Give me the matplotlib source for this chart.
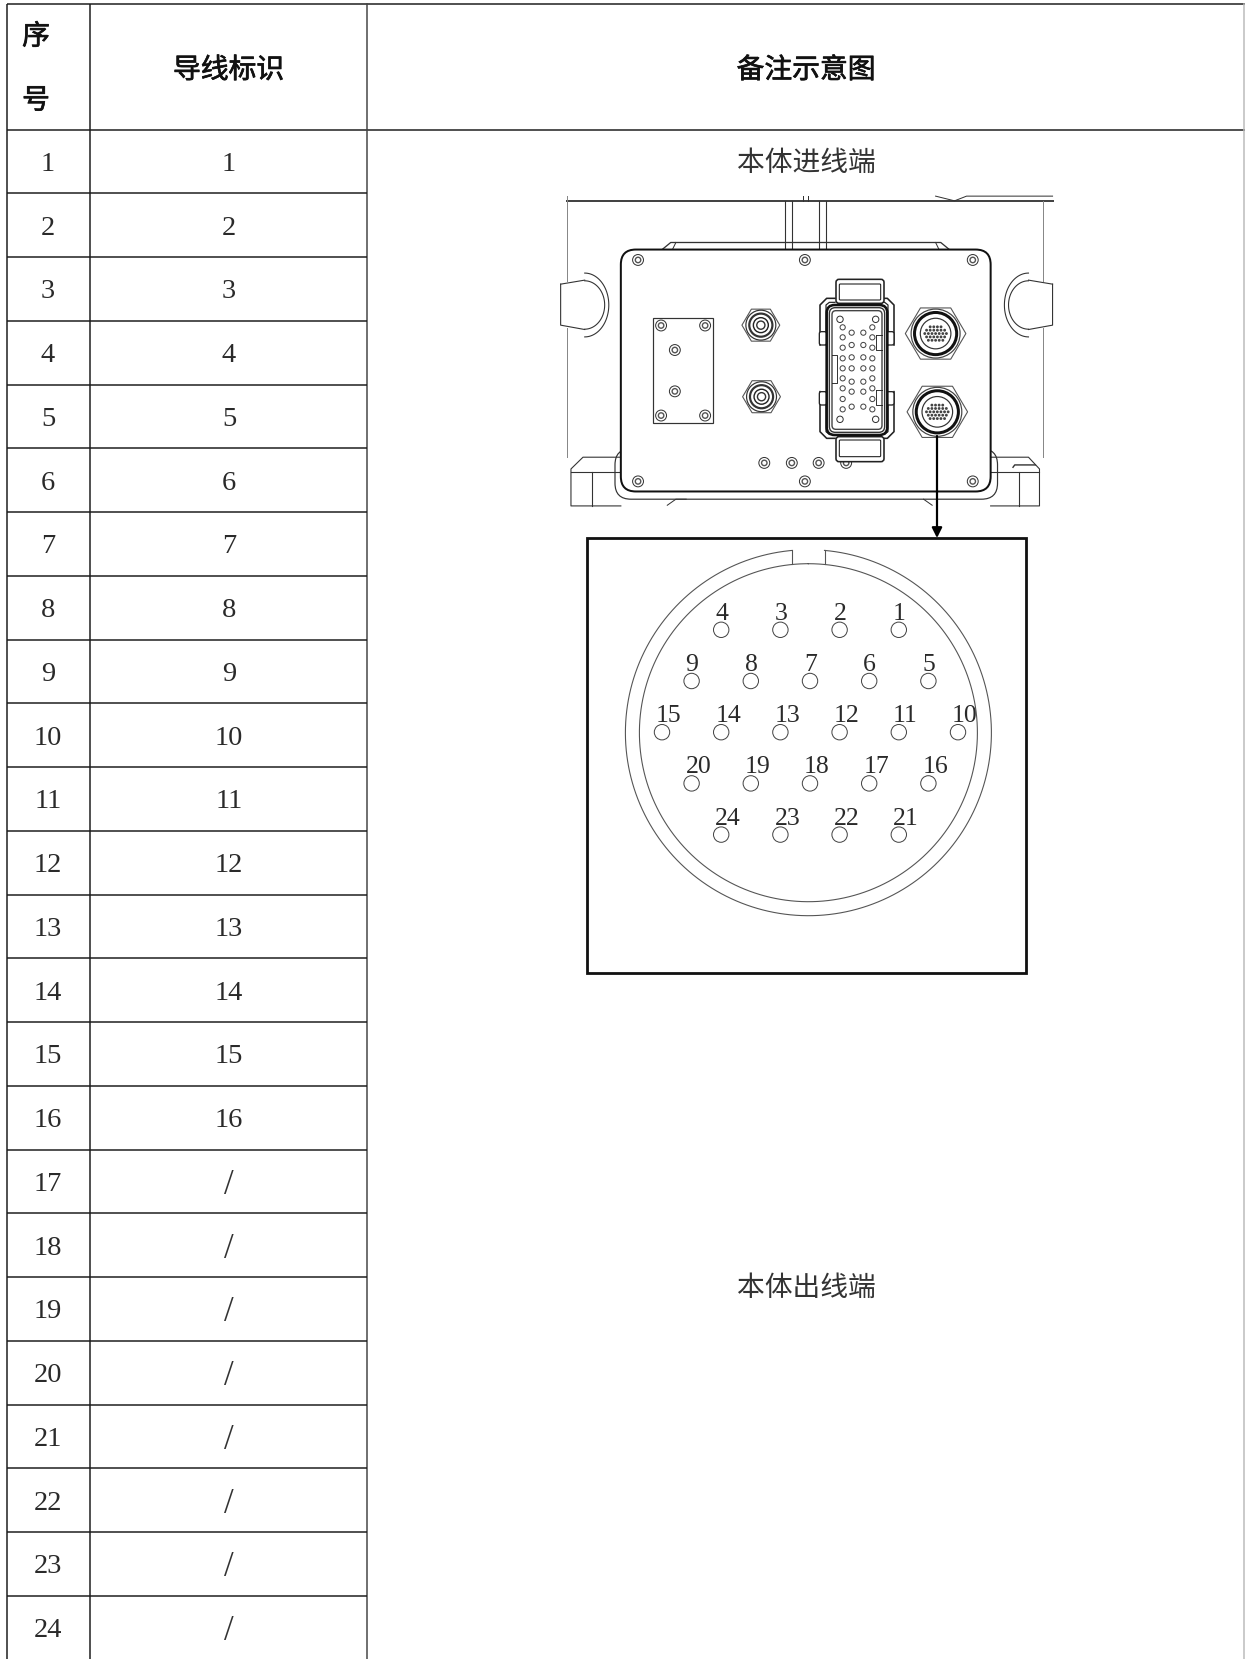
import matplotlib
matplotlib.use("Agg")
import matplotlib.pyplot as plt
import matplotlib.patheffects as pe
from matplotlib.patches import Circle, FancyBboxPatch, Rectangle, Polygon
import numpy as np

# table contents
row_numbers = [str(i) for i in range(1, 25)]
wire_ids = [str(i) for i in range(1, 17)] + ["/"] * 8
headers = ["导线标识", "备注示意图"]
captions = ["本体进线端", "本体出线端"]

# pin layout of the round connector, top row first
pin_rows = [
    ["4", "3", "2", "1"],
    ["9", "8", "7", "6", "5"],
    ["15", "14", "13", "12", "11", "10"],
    ["20", "19", "18", "17", "16"],
    ["24", "23", "22", "21"],
]

# panel drawing parts
panel_screws = [(285, 238), (770, 238), (1258, 238), (285, 897), (770, 897), (1258, 897),
                (652, 842), (732, 842), (810, 842), (890, 842),
                (352, 433), (480, 433), (392, 506), (392, 629), (352, 701), (480, 701)]
glands = [(642, 432), (644, 645)]
round_plugs = [(1150, 457), (1155, 690)]
# block connector contacts, crop 4 coordinates
outer_pins_x = [98, 187]
outer_pins_y = [172, 202, 233, 265, 295, 325, 355, 387, 418]
inner_pins_x = [125, 160]
inner_pins_y = [188, 225, 262, 295, 335, 365, 410]
block_screws = [(90, 148), (197, 148), (90, 448), (197, 448)]
block_clips = [(28, 185), (230, 185), (28, 365), (230, 365)]

W, H = 1245, 1659
fig = plt.figure(figsize=(W / 100, H / 100), dpi=100)
ax = fig.add_axes([0, 0, 1, 1])
ax.set_xlim(0, W)
ax.set_ylim(H, 0)
ax.axis("off")

cjk = ["Noto Sans CJK SC", "DejaVu Sans"]
serif = "Liberation Serif"
dark = "#1a1a1a"


def px(n):
    return n * 0.72


# ---- table ----
x_left, x_col1, x_col2, x_right = 7, 90, 367, 1244
y_top, y_head = 4, 129.5
row_h = 63.75
line = dict(color=dark, lw=px(1.5), solid_capstyle="butt")

ax.plot([x_left, W], [y_top, y_top], **line)
ax.plot([x_left, W], [y_head, y_head], **line)
for x in [x_left, x_col1]:
    ax.plot([x, x], [y_top, H], **line)
ax.plot([x_col2, x_col2], [y_top, H], color="#444444", lw=px(1.5))
ax.plot([x_right, x_right], [y_top, H], color="#bbbbbb", lw=px(1.5))
for i in range(1, 24):
    y = y_head + i * row_h
    ax.plot([x_left, x_col2], [y, y], **line)

for i, (a, b) in enumerate(zip(row_numbers, wire_ids)):
    y = y_head + (i + 0.5) * row_h + 3
    ax.text(48, y, a, family=serif, fontsize=20.5, ha="center", va="center", color="#2a2a2a")
    if b == "/":
        ax.text(229, y + 1, b, family=serif, fontsize=25, ha="center", va="center", color="#333333")
    else:
        ax.text(229, y, b, family=serif, fontsize=20.5, ha="center", va="center", color="#2a2a2a")

semi = [pe.withStroke(linewidth=0.5, foreground="#111111")]
for s, xt, yt in [("序", 36, 36.5), ("号", 36, 100.5), (headers[0], 228.5, 70), (headers[1], 806, 70)]:
    ax.text(xt, yt, s, family=cjk, fontsize=20, ha="center", va="center", color="#111111", path_effects=semi)
ax.text(806, 162.5, captions[0], family=cjk, fontsize=20, ha="center", va="center", color="#333333")
ax.text(806, 1288, captions[1], family=cjk, fontsize=20, ha="center", va="center", color="#333333")


# ---- panel drawing, in crop coordinates ----
def zx(v):
    return 540 + np.asarray(v, dtype=float) * 0.344


def zy(v):
    return 180 + np.asarray(v, dtype=float) * 0.336


def zl(xs, ys, lw=1.0, color="#333333", z=3):
    ax.plot(zx(xs), zy(ys), color=color, lw=px(lw), zorder=z)


def zcirc(cx, cy, r, lw=1.0, fc="none", ec="#333333", z=4):
    ax.add_patch(Circle((zx(cx), zy(cy)), r * 0.34, fc=fc, ec=ec, lw=px(lw), zorder=z))


def hexagon(cx, cy, r):
    t = np.deg2rad(np.arange(0, 360, 60))
    pts = np.c_[zx(cx + r * np.cos(t)), zy(cy + r * np.sin(t))]
    ax.add_patch(Polygon(pts, closed=True, fc="white", ec="#555555", lw=px(1.1), zorder=4, joinstyle="round"))


# block connector helpers, crop 4 pixels
def bx(v):
    return 810 + np.asarray(v, dtype=float) / 3


def by(v):
    return 270 + np.asarray(v, dtype=float) / 3


def bl(xs, ys, lw=1.0, color="#222222", z=5):
    ax.plot(bx(xs), by(ys), color=color, lw=px(lw), zorder=z)


def brect(x0, y0, x1, y1, lw=1.0, ec="#222222", rad=2, z=5):
    ax.add_patch(FancyBboxPatch((bx(x0), by(y0)), (x1 - x0) / 3, (y1 - y0) / 3,
                                boxstyle=f"round,pad=0,rounding_size={rad}", fc="white", ec=ec,
                                lw=px(lw), zorder=z))


# body behind the panel
zl([78, 1490], [62, 62], 2.0, "#444444")
zl([78, 78], [48, 300], 1.0, "#888888")
zl([78, 78], [440, 825], 1.0, "#888888")
zl([1462, 1462], [62, 300], 1.0, "#888888")
zl([1462, 1462], [440, 825], 1.0, "#888888")
for x in [713, 733, 812, 830]:
    zl([x, x], [62, 207], 1.1)
zl([765, 765], [48, 62])
zl([778, 778], [48, 62])
zl([1150, 1205, 1240, 1490], [48, 62, 48, 48])
zl([355, 380, 1165, 1190], [207, 186, 186, 207], 1.3)
zl([395, 385], [186, 207], 1.0)
zl([1150, 1160], [186, 207], 1.0)

# side handles
t = np.deg2rad(np.linspace(-90, 90, 50))
for mirror in [False, True]:
    hx = [60, 60, 130]
    hy = [310, 432, 445]
    x_out = 130 + 70 * np.cos(t)
    y_out = 372 + 95 * np.sin(t)
    x_in = 130 + 58 * np.cos(t)
    y_in = 372 + 72 * np.sin(t)
    top_x = [60, 130]
    top_y = [310, 298]
    if mirror:
        hx, top_x = 1550 - np.array(hx), 1550 - np.array(top_x)
        x_out, x_in = 1550 - x_out, 1550 - x_in
    zl(hx, hy, 1.1)
    zl(top_x, top_y, 1.1)
    zl(x_out, y_out, 1.1)
    zl(x_in, y_in, 1.1)

# feet and lower bracket
zl([235, 125, 90, 90, 235], [825, 825, 860, 970, 970], 1.1)
zl([90, 235], [868, 868], 1.1)
zl([150, 150], [868, 970], 1.1)
zl([1310, 1420, 1452, 1452, 1310], [825, 825, 860, 970, 970], 1.1)
zl([1310, 1452], [868, 868], 1.1)
zl([1392, 1392], [868, 970], 1.1)
zl([1375, 1380, 1440], [855, 848, 848], 1.4)
ax.add_patch(FancyBboxPatch((zx(218), zy(800)), 1112 * 0.344, 150 * 0.336,
                            boxstyle="round,pad=0,rounding_size=16", fc="white", ec="#333333",
                            lw=px(1.2), zorder=2))
zl([370, 395, 425], [968, 950, 950], 1.0)
zl([1115, 1140], [950, 968], 1.0)

# panel plate
ax.add_patch(FancyBboxPatch((zx(235), zy(207)), 1075 * 0.344, 720 * 0.336,
                            boxstyle="round,pad=0,rounding_size=15", fc="white", ec="#111111",
                            lw=px(2.0), zorder=3))

for sx, sy in panel_screws:
    zcirc(sx, sy, 16, 1.0)
    zcirc(sx, sy, 8, 1.4, ec="#555555")

ax.add_patch(Rectangle((zx(329), zy(411)), 174 * 0.344, 312 * 0.336, fc="none", ec="#333333",
                       lw=px(1.2), zorder=4))

for gx, gy in glands:
    hexagon(gx, gy, 55)
    zcirc(gx, gy, 44, 1.2, ec="#333333")
    zcirc(gx, gy, 34, 2.2, ec="#333333")
    zcirc(gx, gy, 22, 1.4, ec="#222222")
    zcirc(gx, gy, 12, 1.4)

# block connector
# side bows
for mirror in [False, True]:
    for ys in [[85, 85, 105, 225], [505, 505, 485, 365]]:
        xs = np.array([75, 50, 30, 30])
        xs2 = np.array([75, 58, 48, 48])
        if mirror:
            xs, xs2 = 282 - xs, 282 - xs2
        bl(xs, ys, 1.6)
        bl(xs2, [ys[0] + (12 if ys[0] < 300 else -12), ys[1] + (12 if ys[0] < 300 else -12), ys[2], ys[3]], 1.2)
for cxb, cyb in block_clips:
    brect(cxb, cyb, cxb + 22, cyb + 40, 1.3, rad=2)
brect(78, 28, 222, 100, 1.6, rad=3)
brect(88, 42, 212, 90, 1.1, rad=1)
brect(78, 500, 222, 575, 1.6, rad=3)
brect(88, 510, 212, 560, 1.1, rad=1)
brect(50, 105, 232, 495, 2.6, ec="#111111", rad=8)
brect(58, 113, 224, 487, 1.4, ec="#333333", rad=6)
brect(66, 122, 216, 478, 1.4, ec="#444444", rad=4)
bl([198, 198, 216], [195, 240, 240], 0.9, z=6)
bl([216, 198], [195, 195], 0.9, z=6)
bl([198, 198, 216], [360, 405, 405], 0.9, z=6)
bl([216, 198], [360, 360], 0.9, z=6)
bl([66, 82, 82, 66], [255, 255, 340, 340], 0.9, z=6)
for sx, sy in block_screws:
    ax.add_patch(Circle((bx(sx), by(sy)), 3.2, fc="white", ec="#333333", lw=px(1.0), zorder=6))
for xs_, ys_ in [(outer_pins_x, outer_pins_y), (inner_pins_x, inner_pins_y)]:
    for a in xs_:
        for b in ys_:
            ax.add_patch(Circle((bx(a), by(b)), 2.6, fc="none", ec="#444444", lw=px(1.0), zorder=6))

# round plugs
for rx, ry in round_plugs:
    hexagon(rx, ry, 88)
    zcirc(rx, ry, 72, 1.2, ec="#444444")
    zcirc(rx, ry, 62, 3.0, ec="#111111")
    zcirc(rx, ry, 45, 1.2)
    for j, n in enumerate([4, 6, 7, 6, 5]):
        for k in range(n):
            zcirc(rx + (k - (n - 1) / 2) * 10.5, ry + (j - 2) * 10, 4.2, 0, fc="#444444", ec="none", z=5)

# arrow from plug to the pin view
ax.annotate("", xy=(937, 538), xytext=(937, 436), zorder=6,
            arrowprops=dict(arrowstyle="-|>", color="black", lw=px(2.2), shrinkA=0, shrinkB=0,
                            mutation_scale=15))

# ---- pin view ----
ax.add_patch(Rectangle((587, 537.7), 439.3, 435.3, fc="white", ec="#111111", lw=px(2.8), zorder=5))

cx, cy = 808.4, 732.7
r_out, r_in = 183, 169
gap_left, gap_right = 792, 824.5
ring = "#555555"
a_l = np.arcsin((gap_left - cx) / r_out)
a_r = np.arcsin((gap_right - cx) / r_out)
theta = np.linspace(a_r, 2 * np.pi + a_l, 400)
ax.plot(cx + r_out * np.sin(theta), cy - r_out * np.cos(theta), color=ring, lw=px(1.1), zorder=6)
theta = np.linspace(0, 2 * np.pi, 400)
ax.plot(cx + r_in * np.sin(theta), cy - r_in * np.cos(theta), color=ring, lw=px(1.1), zorder=6)
for gx_ in [gap_left, gap_right]:
    ax.plot([gx_, gx_], [cy - np.sqrt(r_out**2 - (gx_ - cx)**2), cy - np.sqrt(r_in**2 - (gx_ - cx)**2)],
            color=ring, lw=px(1.1), zorder=6)

pitch_x, pitch_y = 29.6, 51.2
pin_cx, pin_cy = 810, 732.2
for j, labels in enumerate(pin_rows):
    y = pin_cy + (j - 2) * pitch_y
    n = len(labels)
    for k, lab in enumerate(labels):
        x = pin_cx + (2 * k - (n - 1)) * pitch_x
        ax.add_patch(Circle((x, y), 7.7, fc="none", ec="#444444", lw=px(1.0), zorder=6))
        ax.text(x - 6, y - 10, lab, family=serif, fontsize=18.5, ha="left", va="baseline",
                color="#2a2a2a", zorder=7)

fig.savefig("out.png", dpi=100, facecolor="white")
